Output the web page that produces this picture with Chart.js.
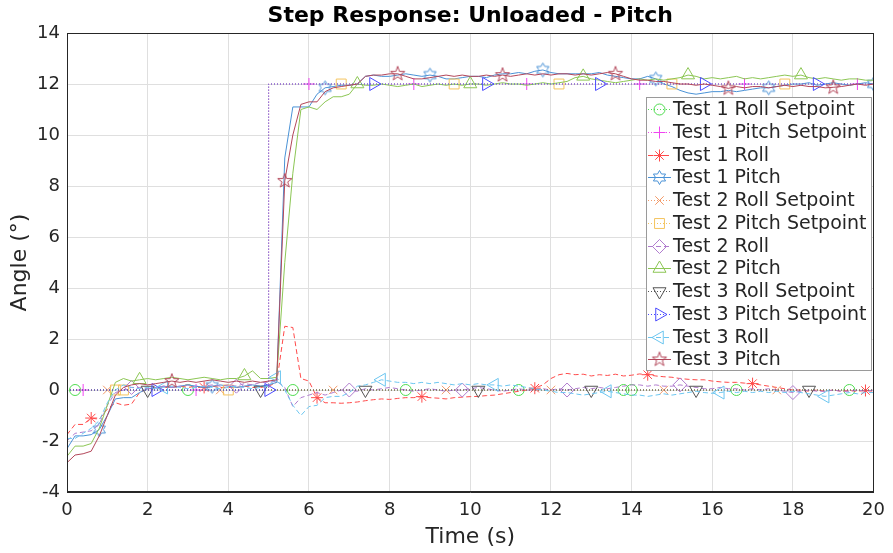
<!DOCTYPE html>
<html>
<head>
<meta charset="utf-8">
<script src="https://cdn.jsdelivr.net/npm/chart.js@4.4.1/dist/chart.umd.min.js"></script>
<style>
  html, body { margin: 0; padding: 0; background: #fff; }
</style>
</head>
<body>
<canvas id="chart" width="893" height="553"></canvas>
<script>
// time base (s), one sample every 0.2 s
const timeS = [0,0.2,0.4,0.6,0.8,1,1.2,1.4,1.6,1.8,2,2.2,2.4,2.6,2.8,3,3.2,3.4,3.6,3.8,
  4,4.2,4.4,4.6,4.8,5,5.2,5.4,5.6,5.8,6,6.2,6.4,6.6,6.8,7,7.2,7.4,7.6,7.8,
  8,8.2,8.4,8.6,8.8,9,9.2,9.4,9.6,9.8,10,10.2,10.4,10.6,10.8,11,11.2,11.4,11.6,11.8,
  12,12.2,12.4,12.6,12.8,13,13.2,13.4,13.6,13.8,14,14.2,14.4,14.6,14.8,15,15.2,15.4,15.6,15.8,
  16,16.2,16.4,16.6,16.8,17,17.2,17.4,17.6,17.8,18,18.2,18.4,18.6,18.8,19,19.2,19.4,19.6,19.8,20];

const yTicks = [-4, -2, 0, 2, 4, 6, 8, 10, 12, 14];
const xTicks = [0, 2, 4, 6, 8, 10, 12, 14, 16, 18, 20];

// setpoints (same for all three tests); pitch steps up right after t = 5 s
const rollSetpoint = [0,0,0,0,0,0,0,0,0,0, 0,0,0,0,0,0,0,0,0,0, 0,0,0,0,0,0,0,0,0,0,
  0,0,0,0,0,0,0,0,0,0, 0,0,0,0,0,0,0,0,0,0, 0,0,0,0,0,0,0,0,0,0,
  0,0,0,0,0,0,0,0,0,0, 0,0,0,0,0,0,0,0,0,0, 0,0,0,0,0,0,0,0,0,0,
  0,0,0,0,0,0,0,0,0,0, 0];
const pitchSetpoint = [0,0,0,0,0,0,0,0,0,0, 0,0,0,0,0,0,0,0,0,0, 0,0,0,0,0,0,12,12,12,12,
  12,12,12,12,12,12,12,12,12,12, 12,12,12,12,12,12,12,12,12,12, 12,12,12,12,12,12,12,12,12,12,
  12,12,12,12,12,12,12,12,12,12, 12,12,12,12,12,12,12,12,12,12, 12,12,12,12,12,12,12,12,12,12,
  12,12,12,12,12,12,12,12,12,12, 12];

// measured responses (deg)
const test1Roll = [-1.75,-1.35,-1.35,-1.1,-1.15,-0.75,-0.5,-0.6,-0.55,-0.1,
  0.05,0.05,0.1,0.1,0.15,0.1,0.15,0.1,0.15,0.1, 0.1,0.1,0.15,0.1,0.1,0.15,0.3,2.5,2.45,0.45,
  0.35,-0.3,-0.5,-0.5,-0.52,-0.5,-0.47,-0.42,-0.38,-0.35, -0.37,-0.33,-0.3,-0.3,-0.26,-0.3,-0.32,-0.35,-0.3,-0.28,
  -0.26,-0.25,-0.22,-0.2,-0.15,-0.1,-0.05,0,0.07,0.2, 0.45,0.6,0.65,0.6,0.62,0.55,0.6,0.57,0.62,0.55,
  0.58,0.63,0.6,0.55,0.52,0.5,0.45,0.42,0.4,0.4, 0.35,0.32,0.3,0.3,0.27,0.25,0.2,0.15,0.1,0.05,
  0,0,-0.05,0,-0.05,0,-0.05,-0.02,-0.05,-0.02, -0.05];
const test1Pitch = [-2.3,-1.8,-1.8,-1.75,-1.55,-1,-0.35,-0.3,-0.3,-0.1,
  0.05,0.1,0.15,0.1,0.15,0.2,0.15,0.1,0.15,0.2, 0.15,0.1,0.15,0.2,0.15,0.2,0.3,9.1,11.1,11.1,
  11.1,11.6,11.85,11.9,11.95,11.95,12,12.3,12.35,12.3, 12.3,12.35,12.4,12.35,12.3,12.35,12.3,12.2,12.2,12.25,
  12.3,12.3,12.25,12.35,12.4,12.4,12.45,12.4,12.5,12.55, 12.45,12.4,12.4,12.4,12.4,12.4,12.45,12.35,12.3,12.25,
  12.2,12.2,12.3,12.2,12,11.9,11.75,11.65,11.6,11.65, 11.7,11.7,11.75,11.7,11.75,11.8,11.85,11.85,11.9,11.95,
  12,12,12.05,11.95,12,12.05,12,11.95,12,12.05, 12];
const test2Roll = [-2,-1.7,-1.65,-1.6,-1.35,-0.6,-0.1,0,0.1,0.1,
  0.05,0.1,0.15,0.1,0.15,0.2,0.1,0.15,0.2,0.15, 0.2,0.15,0.25,0.2,0.3,0.3,0.35,0.1,-0.65,-0.3,
  -0.2,-0.1,-0.2,-0.1,0,0,-0.05,0.05,0,0.05, 0.1,0.05,0,-0.05,0,0.05,0,-0.05,0,0,
  0.05,0.1,0.05,0,-0.05,0,0.05,0,0,0.05, 0,0.05,0,0.05,0.1,0.05,0.1,0.05,0.1,0.15,
  0.2,0.2,0.15,0.2,0.15,0.15,0.2,0.15,0.1,0.05, 0.05,0.1,0.05,0.05,0,0.05,0,0.05,0,-0.05,
  -0.1,-0.05,0,-0.05,-0.05,0,-0.05,-0.05,0,-0.05, 0];
const test2Pitch = [-2.6,-2.2,-2.2,-2.1,-1.5,-0.6,0.3,0.45,0.35,0.4,
  0.45,0.4,0.45,0.5,0.45,0.4,0.45,0.5,0.45,0.4, 0.45,0.45,0.55,0.75,0.45,0.45,0.5,5,8.5,11,
  11.1,11,11.3,11.5,11.5,11.6,12,11.95,11.95,12, 11.95,11.9,11.95,12,11.9,11.95,12,11.95,12,11.95,
  12,12,11.95,12,12.05,12,12,11.95,12,12.05, 12,12.05,12.1,12.25,12.3,12.2,12.15,12.1,12.05,12.1,
  12.15,12.2,12.15,12.2,12.15,12.2,12.25,12.35,12.3,12.2, 12.25,12.2,12.25,12.3,12.2,12.25,12.2,12.25,12.3,12.35,
  12.3,12.35,12.25,12.2,12.25,12.2,12.15,12.2,12.2,12.15, 12.15];
const test3Roll = [-1.9,-1.9,-1.7,-1.5,-1.2,-0.5,0,0.2,0.1,0.05,
  0.1,0.05,0.1,0.15,0.1,0.05,0.1,0.15,0.1,0.05, 0.1,0.15,0.1,0.05,0.1,0.15,0.5,0,-0.6,-1,
  -0.65,-0.6,-0.3,-0.25,-0.25,-0.1,0.15,0.2,0.3,0.4, 0.35,0.3,0.3,0.25,0.3,0.25,0.3,0.25,0.2,0.25,
  0.2,0.25,0.2,0.2,0.15,0.2,0.15,0.1,0.05,0, -0.05,-0.1,-0.1,-0.15,-0.2,-0.15,-0.1,-0.05,-0.1,-0.15,
  -0.2,-0.2,-0.25,-0.2,-0.15,-0.2,-0.15,-0.1,-0.05,-0.1, -0.13,-0.1,-0.05,-0.1,-0.05,-0.1,-0.05,-0.1,-0.05,-0.1,
  -0.05,-0.1,-0.15,-0.2,-0.25,-0.2,-0.15,-0.1,-0.15,-0.1, -0.1];
const test3Pitch = [-2.85,-2.55,-2.5,-2.4,-1.8,-1,-0.2,0.1,0.2,0.25,
  0.2,0.25,0.3,0.35,0.3,0.35,0.3,0.35,0.4,0.35, 0.3,0.35,0.3,0.35,0.3,0.35,0.4,8.2,10,11.2,
  11.3,11.3,11.7,11.85,11.9,11.95,12,12.3,12.35,12.35, 12.4,12.4,12.3,12.2,12.2,12.25,12.3,12.35,12.3,12.35,
  12.3,12.3,12.35,12.3,12.35,12.3,12.35,12.4,12.35,12.4, 12.35,12.4,12.4,12.35,12.4,12.35,12.4,12.45,12.4,12.3,
  12.2,12.15,12.15,12.1,12.1,12.05,12,12,11.95,12, 11.95,11.9,11.83,11.9,11.85,11.9,11.9,11.85,11.9,11.95,
  11.9,11.95,11.9,11.9,11.85,11.87,11.9,11.95,12,11.95, 12];

const seriesLabels = ['Test 1 Roll Setpoint', 'Test 1 Pitch Setpoint', 'Test 1 Roll', 'Test 1 Pitch',
  'Test 2 Roll Setpoint', 'Test 2 Pitch Setpoint', 'Test 2 Roll', 'Test 2 Pitch',
  'Test 3 Roll Setpoint', 'Test 3 Pitch Setpoint', 'Test 3 Roll', 'Test 3 Pitch'];
const seriesValues = [rollSetpoint, pitchSetpoint, test1Roll, test1Pitch,
  rollSetpoint, pitchSetpoint, test2Roll, test2Pitch,
  rollSetpoint, pitchSetpoint, test3Roll, test3Pitch];

// star shaped markers that chart.js doesn't ship
function starMarker(color, points, outer, inner) {
  const c = document.createElement('canvas');
  c.width = c.height = Math.ceil(outer * 2 + 3);
  const g = c.getContext('2d');
  const m = c.width / 2;
  g.strokeStyle = color;
  g.lineWidth = 1;
  g.beginPath();
  for (let k = 0; k < points * 2; k++) {
    const r = k % 2 ? inner : outer;
    const a = -Math.PI / 2 + k * Math.PI / points;
    const px = m + r * Math.cos(a), py = m + r * Math.sin(a);
    k ? g.lineTo(px, py) : g.moveTo(px, py);
  }
  g.closePath();
  g.stroke();
  return c;
}

const DOT = [1, 2], DASH = [5, 3], SOLID = [];
const styles = [
  { color: '#4fdc4f', dash: DOT, marker: 'circle', rot: 0, r: 5.5 },
  { color: '#f044f0', dash: DOT, marker: 'cross', rot: 0, r: 6 },
  { color: '#ff4a4a', dash: DASH, marker: 'star', rot: 0, r: 6 },
  { color: '#4a92d6', dash: SOLID, marker: null, rot: 0, r: 7, star: [6, 7, 4] },
  { color: '#f39b6a', dash: DOT, marker: 'crossRot', rot: 0, r: 6 },
  { color: '#f4c45e', dash: DOT, marker: 'rect', rot: 0, r: 7 },
  { color: '#b07cce', dash: DASH, marker: 'rectRot', rot: 0, r: 7 },
  { color: '#8cc654', dash: SOLID, marker: 'triangle', rot: 0, r: 7.5 },
  { color: '#555555', dash: DOT, marker: 'triangle', rot: 180, r: 7.5 },
  { color: '#4b4bff', dash: DOT, marker: 'triangle', rot: 90, r: 7.5 },
  { color: '#6cc6f0', dash: DASH, marker: 'triangle', rot: 270, r: 7.5 },
  { color: '#b3475a', dash: SOLID, marker: null, rot: 0, r: 7, star: [5, 7.5, 3] },
];
styles.forEach(s => {
  if (s.star) s.marker = starMarker(s.color, s.star[0], s.star[1], s.star[2]);
});

// markers every 2.74 s, each series shifted a little like the matlab figure
const markerEvery = 2.74;
function hasMarker(seriesIdx, t) {
  const off = 0.2 + 0.22 * seriesIdx;
  const r = (((t - off) % markerEvery) + markerEvery) % markerEvery;
  return r < 0.1 || r >= markerEvery - 0.1;
}

const datasets = seriesValues.map((vals, i) => {
  const s = styles[i];
  return {
    label: seriesLabels[i],
    data: vals,
    borderColor: s.color,
    backgroundColor: 'rgba(0,0,0,0)',
    borderWidth: 1,
    borderDash: s.dash,
    // vertical edge of the setpoint step sits on the earlier sample
    stepped: i % 4 === 1 ? 'after' : false,
    pointStyle: s.marker,
    pointRotation: s.rot,
    pointBorderColor: s.color,
    pointBackgroundColor: 'rgba(0,0,0,0)',
    pointBorderWidth: 1,
    pointRadius: ctx => hasMarker(i, timeS[ctx.dataIndex]) ? s.r : 0,
    pointHoverRadius: 0,
    tension: 0,
    order: 12 - i,
  };
});

const FONT = '"DejaVu Sans", "Liberation Sans", sans-serif';
const INK = '#262626';

const frameAndLegend = {
  id: 'frameAndLegend',
  afterDraw(chart) {
    const ctx = chart.ctx;
    const a = chart.chartArea;
    ctx.save();
    ctx.strokeStyle = INK;
    ctx.lineWidth = 1;
    ctx.setLineDash([]);
    ctx.strokeRect(Math.round(a.left) + 0.5, Math.round(a.top) + 0.5,
      Math.round(a.right - a.left) - 1, Math.round(a.bottom - a.top) - 1);

    // legend box, upper right inside the axes
    const bx = 646.5, by = 97.5, bw = 225, bh = 273;
    ctx.fillStyle = '#ffffff';
    ctx.fillRect(bx, by, bw, bh);
    ctx.strokeStyle = '#9a9a9a';
    ctx.strokeRect(bx, by, bw, bh);

    ctx.font = '19px ' + FONT;
    ctx.textBaseline = 'middle';
    ctx.textAlign = 'left';
    chart.data.datasets.forEach((ds, k) => {
      const s = styles[k];
      const y = Math.round(109 + 22.75 * k) + 0.5;
      ctx.strokeStyle = s.color;
      ctx.setLineDash(s.dash);
      ctx.beginPath();
      ctx.moveTo(648, y);
      ctx.lineTo(671, y);
      ctx.stroke();
      ctx.setLineDash([]);
      ctx.fillStyle = 'rgba(0,0,0,0)';
      Chart.helpers.drawPoint(ctx, {
        pointStyle: s.marker, rotation: s.rot, radius: s.r, borderWidth: 1
      }, 659.5, y);
      ctx.fillStyle = INK;
      ctx.fillText(ds.label, 673, y + 1);
    });
    ctx.restore();
  }
};

new Chart(document.getElementById('chart'), {
  type: 'line',
  data: { labels: timeS, datasets },
  plugins: [frameAndLegend],
  options: {
    responsive: false,
    animation: false,
    events: [],
    layout: { padding: { left: 0, right: 16, top: 0, bottom: 0 } },
    plugins: {
      legend: { display: false },
      tooltip: { enabled: false },
      title: {
        display: true,
        text: 'Step Response: Unloaded - Pitch',
        fullSize: false,
        color: '#000',
        font: { family: FONT, size: 22, weight: 'bold' },
        padding: { top: 3, bottom: 3.6 }
      }
    },
    scales: {
      x: {
        type: 'linear',
        min: 0, max: 20,
        afterFit: sc => { sc.height = 61; },
        afterBuildTicks: sc => { sc.ticks = xTicks.map(v => ({ value: v })); },
        grid: { color: '#dfdfdf', drawTicks: false },
        border: { color: INK },
        ticks: {
          color: INK, font: { family: FONT, size: 18 }, padding: 8,
          maxRotation: 0, autoSkip: false
        },
        title: {
          display: true, text: 'Time (s)', color: INK,
          font: { family: FONT, size: 22 }, padding: { top: 0, bottom: 3 }
        }
      },
      y: {
        min: -4, max: 14,
        // fixed gutter so the plot box starts where the original does
        afterFit: sc => { sc.width = 67; sc.paddingRight = 0; },
        afterBuildTicks: sc => { sc.ticks = yTicks.map(v => ({ value: v })); },
        grid: { color: '#dfdfdf', drawTicks: false },
        border: { color: INK },
        ticks: { color: INK, font: { family: FONT, size: 18 }, padding: 7 },
        title: {
          display: true, text: 'Angle (°)', color: INK,
          font: { family: FONT, size: 22 }, padding: { top: 7, bottom: 0 }
        }
      }
    }
  },
});
</script>
</body>
</html>
